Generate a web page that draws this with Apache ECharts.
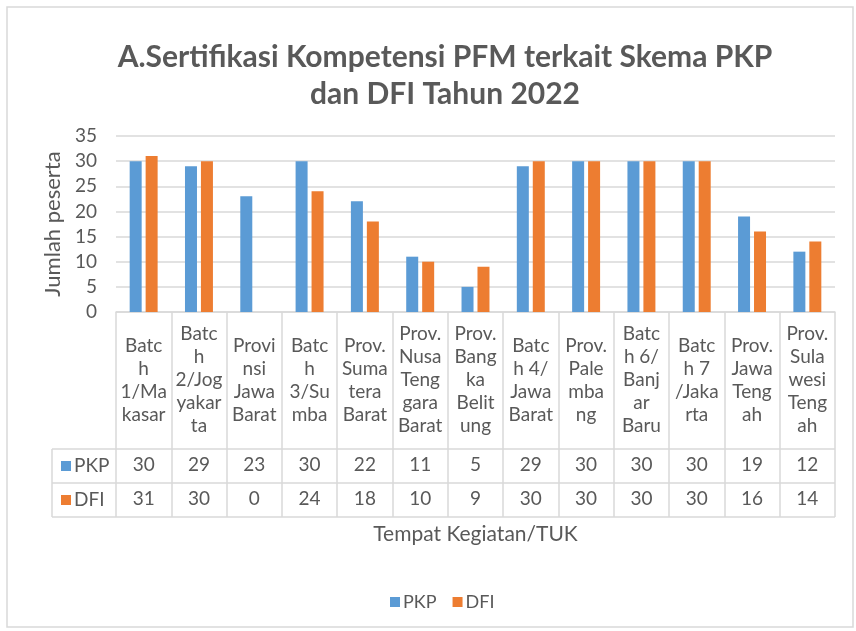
<!DOCTYPE html>
<html>
<head>
<meta charset="utf-8">
<title>Sertifikasi Kompetensi PFM</title>
<script src="https://cdn.jsdelivr.net/npm/echarts@6/dist/echarts.min.js"></script>
<style>
  html, body { margin: 0; padding: 0; background: #fff; }
  #main { width: 856px; height: 631px; }
</style>
</head>
<body>
<div id="main"></div>
<script type="text/javascript">
// data
var categories = [
    'Batc\nh\n1/Ma\nkasar', 'Batc\nh\n2/Jog\nyakar\nta', 'Provi\nnsi\nJawa\nBarat',
    'Batc\nh\n3/Su\nmba', 'Prov.\nSuma\ntera\nBarat', 'Prov.\nNusa\nTeng\ngara\nBarat',
    'Prov.\nBang\nka\nBelit\nung', 'Batc\nh 4/\nJawa\nBarat', 'Prov.\nPale\nmba\nng',
    'Batc\nh 6/\nBanj\nar\nBaru', 'Batc\nh 7\n/Jaka\nrta', 'Prov.\nJawa\nTeng\nah',
    'Prov.\nSula\nwesi\nTeng\nah'
];
var pkp = [30, 29, 23, 30, 22, 11, 5, 29, 30, 30, 30, 19, 12];
var dfi = [31, 30, 0, 24, 18, 10, 9, 30, 30, 30, 30, 16, 14];
var yTicks = [0, 5, 10, 15, 20, 25, 30, 35];

var FONT = 'Lato';
var TXT = '#595959';
var LINE = '#d9d9d9';
var BLUE = '#5b9bd5';
var ORANGE = '#ed7d31';

var chart = echarts.init(document.getElementById('main'));

// helper axes that print the table rows
function rowAxis(values, offset) {
    return {
        type: 'category',
        position: 'bottom',
        offset: offset,
        data: values.map(String),
        axisLine: { show: false },
        axisTick: { show: false },
        axisLabel: {
            interval: 0, margin: 17, verticalAlign: 'middle',
            fontFamily: FONT, fontSize: 19, color: TXT
        }
    };
}

chart.setOption({
    backgroundColor: '#fff',
    textStyle: { fontFamily: FONT },
    title: {
        text: 'A.Sertifikasi Kompetensi PFM terkait Skema PKP\ndan DFI Tahun 2022',
        left: 440,
        top: 34,
        textAlign: 'center',
        textStyle: {
            fontFamily: FONT, fontSize: 30, fontWeight: 'bold',
            color: TXT, lineHeight: 37
        }
    },
    legend: {
        data: ['PKP', 'DFI'],
        left: 385,
        top: 588,
        itemWidth: 10,
        itemHeight: 10,
        itemGap: 16,
        icon: 'rect',
        textStyle: { fontFamily: FONT, fontSize: 18, color: TXT, padding: [0, 0, 0, -2] }
    },
    grid: { left: 116, right: 21, top: 136, height: 176 },
    xAxis: [
        {
            type: 'category',
            data: categories,
            name: 'Tempat Kegiatan/TUK',
            nameLocation: 'middle',
            nameGap: 212,
            nameTextStyle: { fontFamily: FONT, fontSize: 21, color: TXT },
            axisLine: { lineStyle: { color: LINE, width: 1.5 } },
            axisTick: { show: true, length: 205, lineStyle: { color: LINE, width: 1.5 } },
            axisLabel: {
                interval: 0, margin: 68, verticalAlign: 'middle',
                fontFamily: FONT, fontSize: 19, lineHeight: 23, color: TXT
            }
        },
        rowAxis(pkp, 136),
        rowAxis(dfi, 170)
    ],
    yAxis: {
        type: 'value',
        min: yTicks[0],
        max: yTicks[yTicks.length - 1],
        interval: 5,
        name: 'Jumlah peserta',
        nameLocation: 'middle',
        nameGap: 47,
        nameTextStyle: { fontFamily: FONT, fontSize: 22, color: TXT },
        axisLine: { show: false },
        axisTick: { show: false },
        axisLabel: { margin: 19, fontFamily: FONT, fontSize: 19, color: TXT },
        splitLine: { lineStyle: { color: LINE, width: 1.5 } }
    },
    series: [
        { name: 'PKP', type: 'bar', data: pkp, barWidth: 12, barGap: '33%', itemStyle: { color: BLUE } },
        { name: 'DFI', type: 'bar', data: dfi, barWidth: 12, itemStyle: { color: ORANGE } }
    ],
    graphic: [
        // outer chart frame
        { type: 'rect', shape: { x: 7, y: 7, width: 846, height: 620 },
          style: { fill: 'none', stroke: '#d9d9d9', lineWidth: 1.5 }, silent: true },
        // table row lines and the legend column
        { type: 'line', shape: { x1: 52, y1: 449, x2: 835, y2: 449 }, style: { stroke: LINE, lineWidth: 1.5 } },
        { type: 'line', shape: { x1: 52, y1: 483, x2: 835, y2: 483 }, style: { stroke: LINE, lineWidth: 1.5 } },
        { type: 'line', shape: { x1: 52, y1: 517, x2: 835, y2: 517 }, style: { stroke: LINE, lineWidth: 1.5 } },
        { type: 'line', shape: { x1: 52, y1: 449, x2: 52, y2: 517 }, style: { stroke: LINE, lineWidth: 1.5 } },
        { type: 'rect', shape: { x: 61, y: 461, width: 10, height: 10 }, style: { fill: BLUE } },
        { type: 'text', x: 74, y: 466, style: { text: 'PKP', fontFamily: FONT, fontSize: 19, fill: TXT, verticalAlign: 'middle' } },
        { type: 'rect', shape: { x: 61, y: 495, width: 10, height: 10 }, style: { fill: ORANGE } },
        { type: 'text', x: 74, y: 500, style: { text: 'DFI', fontFamily: FONT, fontSize: 19, fill: TXT, verticalAlign: 'middle' } }
    ]
});
</script>
</body>
</html>
